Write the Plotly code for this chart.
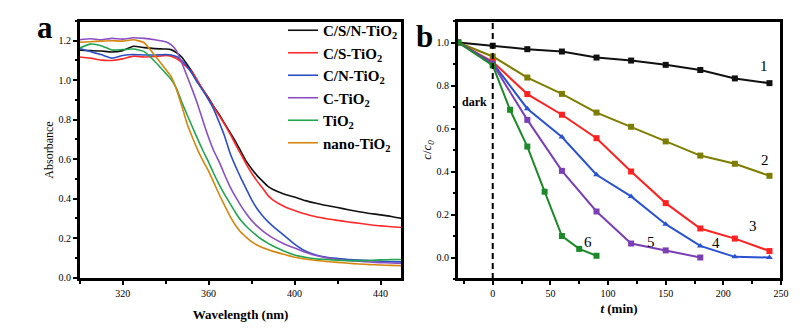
import plotly.graph_objects as go

# ---------------- Panel a data: UV-vis absorbance ----------------
wavelength = [300, 305, 310, 315, 320, 325, 330, 335, 340,
              342.5, 345, 347.5, 350, 352.5, 355, 357.5, 360, 362.5, 365,
              367.5, 370, 372.5, 375, 377.5, 380, 382.5, 385, 387.5, 390,
              395, 400, 405, 410, 415, 420, 425, 430, 435, 440, 445, 450]

abs_csn = [1.152, 1.150, 1.148, 1.143, 1.150, 1.172, 1.165, 1.160, 1.158,
           1.155, 1.140, 1.118, 1.080, 1.040, 0.990, 0.950, 0.910, 0.865, 0.825,
           0.780, 0.735, 0.690, 0.640, 0.590, 0.552, 0.518, 0.490, 0.463, 0.446,
           0.424, 0.408, 0.390, 0.377, 0.365, 0.355, 0.344, 0.334, 0.325, 0.318, 0.310, 0.300]

abs_cs = [1.118, 1.112, 1.102, 1.100, 1.108, 1.122, 1.118, 1.120, 1.125,
          1.122, 1.110, 1.090, 1.065, 1.040, 0.995, 0.950, 0.905, 0.862, 0.820,
          0.775, 0.728, 0.675, 0.625, 0.575, 0.530, 0.490, 0.455, 0.418, 0.393,
          0.362, 0.340, 0.322, 0.308, 0.298, 0.290, 0.282, 0.275, 0.268, 0.262, 0.258, 0.254]

abs_cn = [1.160, 1.145, 1.130, 1.112, 1.125, 1.130, 1.128, 1.128, 1.130,
          1.128, 1.120, 1.100, 1.070, 1.030, 0.985, 0.945, 0.900, 0.850, 0.785,
          0.715, 0.630, 0.565, 0.505, 0.450, 0.395, 0.350, 0.315, 0.285, 0.260,
          0.215, 0.170, 0.135, 0.115, 0.103, 0.097, 0.092, 0.089, 0.086, 0.083, 0.081, 0.080]

abs_c = [1.205, 1.210, 1.205, 1.212, 1.208, 1.215, 1.212, 1.205, 1.195,
         1.180, 1.150, 1.090, 1.020, 0.950, 0.875, 0.790, 0.710, 0.640, 0.585,
         0.520, 0.460, 0.410, 0.365, 0.325, 0.290, 0.262, 0.238, 0.218, 0.200,
         0.172, 0.150, 0.128, 0.112, 0.100, 0.092, 0.087, 0.083, 0.079, 0.076, 0.074, 0.072]

abs_tio2 = [1.163, 1.183, 1.175, 1.153, 1.155, 1.158, 1.145, 1.095, 1.035,
            1.005, 0.960, 0.890, 0.825, 0.762, 0.700, 0.640, 0.585, 0.525, 0.470,
            0.420, 0.375, 0.330, 0.290, 0.260, 0.235, 0.212, 0.192, 0.175, 0.160,
            0.135, 0.115, 0.103, 0.095, 0.092, 0.088, 0.086, 0.086, 0.087, 0.090, 0.092, 0.092]

abs_nano = [1.192, 1.195, 1.198, 1.200, 1.198, 1.205, 1.190, 1.125, 1.055,
            1.020, 0.955, 0.870, 0.780, 0.710, 0.645, 0.590, 0.540, 0.480, 0.420,
            0.365, 0.310, 0.265, 0.230, 0.205, 0.182, 0.165, 0.152, 0.142, 0.133,
            0.118, 0.103, 0.094, 0.087, 0.082, 0.077, 0.073, 0.069, 0.066, 0.064, 0.062, 0.060]

spectra_names = ["C/S/N-TiO<sub>2</sub>", "C/S-TiO<sub>2</sub>", "C/N-TiO<sub>2</sub>",
                 "C-TiO<sub>2</sub>", "TiO<sub>2</sub>", "nano-TiO<sub>2</sub>"]
spectra_colors = ["#111111", "#ff2a2a", "#2b4fc4", "#8b4fc2", "#22a550", "#d4860e"]

# ---------------- Panel b data: degradation kinetics ----------------
t_full = [-30, 0, 30, 60, 90, 120, 150, 180, 210, 240]
c1 = [1.0, 0.985, 0.969, 0.958, 0.930, 0.916, 0.896, 0.872, 0.833, 0.811]
c2 = [1.0, 0.935, 0.837, 0.761, 0.674, 0.608, 0.540, 0.474, 0.436, 0.380]
c3 = [1.0, 0.910, 0.760, 0.664, 0.555, 0.400, 0.253, 0.135, 0.088, 0.030]
c4 = [1.0, 0.905, 0.692, 0.560, 0.385, 0.284, 0.155, 0.054, 0.003, 0.000]
t5 = [-30, 0, 30, 60, 90, 120, 150, 180]
c5 = [1.0, 0.900, 0.640, 0.403, 0.214, 0.065, 0.033, 0.000]
t6 = [-30, 0, 15, 30, 45, 60, 75, 90]
c6 = [1.0, 0.893, 0.687, 0.516, 0.306, 0.100, 0.040, 0.008]

kin_colors = ["#111111", "#7d7d00", "#ff2020", "#2a52d0", "#7a3fb5", "#1d8a2a"]
kin_symbols = ["square", "square", "square", "triangle-up", "square", "square"]
kin_labels = ["1", "2", "3", "4", "5", "6"]
label_t = [235, 236, 226, 194, 137, 83]
label_c = [0.89, 0.455, 0.145, 0.067, 0.073, 0.073]

SERIF = "Liberation Serif, Times New Roman, serif"

# subplot domains (paper fractions)
XDOM_A = [79/812, 402/812]
XDOM_B = [457/812, 781/812]
YDOM = [53/332, 311/332]

fig = go.Figure()

spectra = [abs_csn, abs_cs, abs_cn, abs_c, abs_tio2, abs_nano]
for name, vals, col in zip(spectra_names, spectra, spectra_colors):
    fig.add_trace(go.Scatter(x=wavelength, y=vals, mode="lines", name="<b>" + name + "</b>",
                             line=dict(color=col, width=1.6, shape="spline", smoothing=0.5),
                             xaxis="x", yaxis="y", showlegend=True))

kin_t = [t_full, t_full, t_full, t_full, t5, t6]
kin_c = [c1, c2, c3, c4, c5, c6]
for tt, cc, col, sym in zip(kin_t, kin_c, kin_colors, kin_symbols):
    fig.add_trace(go.Scatter(x=tt, y=cc, mode="lines+markers",
                             line=dict(color=col, width=2),
                             marker=dict(color=col, symbol=sym, size=6),
                             xaxis="x2", yaxis="y2", showlegend=False))

axis_common = dict(showline=True, linecolor="#000000", linewidth=2, mirror=True,
                   ticks="outside", ticklen=4, tickwidth=1.5, tickcolor="#000000",
                   showgrid=False, zeroline=False, automargin=False,
                   tickfont=dict(family=SERIF, size=10, color="black"))

fig.update_layout(
    width=812, height=332,
    margin=dict(l=0, r=0, t=0, b=0, autoexpand=False),
    paper_bgcolor="white", plot_bgcolor="white",
    xaxis=dict(domain=XDOM_A, range=[299.7, 450], tick0=320, dtick=40,
               minor=dict(dtick=20, tick0=300, ticks="outside", ticklen=2.5, tickcolor="#000000"),
               title=dict(text="<b>Wavelength (nm)</b>", font=dict(family=SERIF, size=13, color="black"), standoff=12),
               **axis_common),
    yaxis=dict(domain=YDOM, range=[-0.007, 1.30], dtick=0.2, tickformat=".1f",
               minor=dict(dtick=0.1, ticks="outside", ticklen=2.5, tickcolor="#000000"),
               title=dict(text="Absorbance", font=dict(family=SERIF, size=12, color="black"), standoff=2),
               **axis_common),
    xaxis2=dict(domain=XDOM_B, range=[-31, 250], tick0=0, dtick=50,
                minor=dict(dtick=25, tick0=0, ticks="outside", ticklen=2.5, tickcolor="#000000"),
                title=dict(text="<b><i>t</i> (min)</b>", font=dict(family=SERIF, size=13, color="black"), standoff=6),
                anchor="y2", **axis_common),
    yaxis2=dict(domain=YDOM, range=[-0.1, 1.1], dtick=0.2, tickformat=".1f",
                minor=dict(dtick=0.1, ticks="outside", ticklen=2.5, tickcolor="#000000"),
                title=dict(text="<i>c</i>/<i>c</i><sub><i>0</i></sub>", font=dict(family=SERIF, size=13, color="black"), standoff=2),
                anchor="x2", **axis_common),
    legend=dict(x=283/812, y=1 - 14/332, xanchor="left", yanchor="top",
                bgcolor="rgba(0,0,0,0)", borderwidth=0,
                font=dict(family=SERIF, size=15, color="black"),
                tracegroupgap=0, itemwidth=30),
)

# plot frames, drawn in paper coordinates so nothing clips them
for xd in (XDOM_A, XDOM_B):
    fig.add_shape(type="rect", xref="paper", yref="paper", x0=xd[0], x1=xd[1], y0=YDOM[0], y1=YDOM[1],
                  line=dict(color="#000000", width=2), fillcolor="rgba(0,0,0,0)", layer="above")

fig.add_shape(type="line", xref="x2", yref="y2 domain", x0=0, x1=0, y0=0, y1=1,
              line=dict(color="black", width=2, dash="6px,4px"))

for lab, lt, lc in zip(kin_labels, label_t, label_c):
    fig.add_annotation(x=lt, y=lc, xref="x2", yref="y2", text=lab, showarrow=False,
                       font=dict(family=SERIF, size=15, color="black"))

fig.add_annotation(x=-16, y=0.725, xref="x2", yref="y2", text="<b>dark</b>", showarrow=False,
                   font=dict(family=SERIF, size=12, color="black"))

fig.add_annotation(x=45/812, y=1 - 28/332, xref="paper", yref="paper", text="<b>a</b>",
                   xanchor="center", yanchor="middle",
                   showarrow=False, font=dict(family=SERIF, size=31, color="black"))
fig.add_annotation(x=424/812, y=1 - 36/332, xref="paper", yref="paper", text="<b>b</b>",
                   xanchor="center", yanchor="middle",
                   showarrow=False, font=dict(family=SERIF, size=31, color="black"))

fig.write_html("out.html", config={"displayModeBar": False},
               post_script="document.body.style.margin='0';document.body.style.overflow='hidden';")
